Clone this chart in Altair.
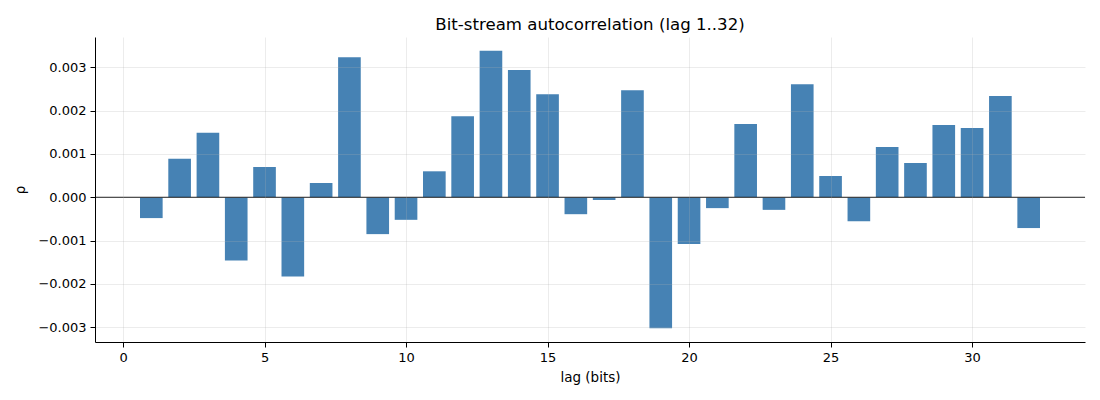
import altair as alt
import pandas as pd

lags = list(range(1, 33))
rho = [-0.00048, 0.00089, 0.00149, -0.00146, 0.00070, -0.00183, 0.00033, 0.00323,
       -0.00085, -0.00052, 0.00060, 0.00187, 0.00338, 0.00294, 0.00238, -0.00039,
       -0.00006, 0.00247, -0.00302, -0.00108, -0.00025, 0.00169, -0.00029, 0.00261,
       0.00049, -0.00055, 0.00116, 0.00079, 0.00167, 0.00160, 0.00234, -0.00071]
x_ticks = [0, 5, 10, 15, 20, 25, 30]
y_ticks = [-0.003, -0.002, -0.001, 0.0, 0.001, 0.002, 0.003]

df = pd.DataFrame({"lag": lags, "rho": rho})

FONT = "DejaVu Sans"

x_scale = alt.Scale(domain=[-0.99, 33.99], nice=False, zero=False)
y_scale = alt.Scale(domain=[-0.00334, 0.0037], nice=False, zero=False)

base = alt.Chart(df)

bars = base.transform_calculate(
    x0="datum.lag - 0.4", x1="datum.lag + 0.4"
).mark_bar(color="#4682b4", opacity=1).encode(
    x=alt.X("x0:Q", scale=x_scale,
            axis=alt.Axis(title="lag (bits)", values=x_ticks, format="d",
                          grid=True, zindex=1)),
    x2="x1:Q",
    y=alt.Y("rho:Q", scale=y_scale,
            axis=alt.Axis(title="ρ", values=y_ticks, format=".3f",
                          grid=True, zindex=1)),
    y2=alt.datum(0),
)

zero = alt.Chart(pd.DataFrame({"z": [0.0]})).mark_rule(
    color="black", strokeWidth=1
).encode(y=alt.Y("z:Q", scale=y_scale))

chart = alt.layer(bars, zero).properties(
    width=990,
    height=305,
    padding={"left": 87, "top": 29, "right": 7, "bottom": 50},
    autosize=alt.AutoSizeParams(type="none"),
    title=alt.Title("Bit-stream autocorrelation (lag 1..32)", font=FONT,
                    fontSize=16.6, fontWeight="normal", color="black",
                    anchor="middle", offset=3),
).configure_view(stroke=None).configure_axis(
    labelFont=FONT, titleFont=FONT, labelFontSize=13, titleFontSize=13.5,
    titleFontWeight="normal", labelColor="black", titleColor="black",
    domainColor="black", domainWidth=1, tickColor="black", tickSize=5,
    tickWidth=1, labelPadding=4, gridColor="#b0b0b0", gridOpacity=0.3,
    gridWidth=0.8,
).configure_axisX(titlePadding=6).configure_axisY(titlePadding=10)

chart.save("out.html", embed_options={"renderer": "svg", "actions": False})
